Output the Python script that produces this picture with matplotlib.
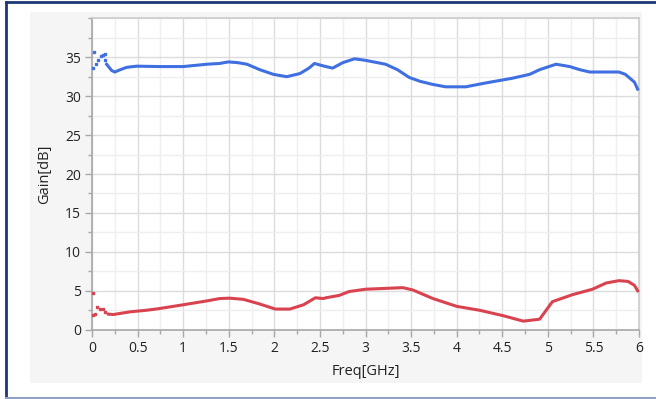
import matplotlib
matplotlib.use("Agg")
import matplotlib.pyplot as plt
from matplotlib.patches import Rectangle
from matplotlib.lines import Line2D
from matplotlib.ticker import MultipleLocator

# Gain vs frequency, upper trace (blue)
blue_start_f = [0.015, 0.02, 0.045, 0.07, 0.095, 0.125, 0.14, 0.14]
blue_start_g = [33.6, 35.7, 34.1, 34.6, 35.1, 35.3, 34.7, 35.4]
blue_f = [0.16, 0.215, 0.25, 0.31, 0.38, 0.49, 0.75, 1.0, 1.26, 1.40, 1.495, 1.60, 1.70,
          1.84, 1.99, 2.135, 2.28, 2.38, 2.44, 2.5, 2.566, 2.64, 2.75, 2.88, 3.0, 3.22,
          3.35, 3.48, 3.60, 3.74, 3.88, 4.10, 4.32, 4.61, 4.80, 4.91, 5.09, 5.24, 5.35,
          5.46, 5.71, 5.78, 5.85, 5.89, 5.95, 5.985]
blue_g = [34.1, 33.3, 33.1, 33.4, 33.7, 33.85, 33.8, 33.8, 34.1, 34.2, 34.4, 34.3, 34.1,
          33.4, 32.8, 32.5, 32.9, 33.6, 34.2, 34.0, 33.8, 33.6, 34.3, 34.8, 34.6, 34.1,
          33.4, 32.4, 31.9, 31.5, 31.2, 31.2, 31.7, 32.3, 32.8, 33.4, 34.1, 33.8, 33.4,
          33.1, 33.1, 33.1, 32.8, 32.4, 31.8, 30.9]

# Gain vs frequency, lower trace (red)
red_start_f = [0.01, 0.015, 0.03, 0.06, 0.09, 0.12, 0.14]
red_start_g = [1.9, 4.7, 2.0, 2.9, 2.7, 2.6, 2.3]
red_f = [0.18, 0.235, 0.42, 0.6, 0.73, 1.0, 1.26, 1.40, 1.51, 1.66, 1.84, 2.01, 2.17,
         2.32, 2.45, 2.54, 2.566, 2.71, 2.82, 3.0, 3.41, 3.52, 3.74, 4.0, 4.25, 4.51,
         4.73, 4.91, 5.05, 5.27, 5.49, 5.64, 5.78, 5.88, 5.95, 5.985]
red_g = [2.0, 1.95, 2.3, 2.5, 2.7, 3.2, 3.7, 4.0, 4.05, 3.9, 3.3, 2.65, 2.65,
         3.2, 4.1, 4.0, 4.1, 4.4, 4.9, 5.2, 5.4, 5.1, 4.0, 3.0, 2.5, 1.8,
         1.1, 1.35, 3.6, 4.5, 5.2, 6.0, 6.3, 6.2, 5.7, 5.0]

x_ticks = [0, 0.5, 1, 1.5, 2, 2.5, 3, 3.5, 4, 4.5, 5, 5.5, 6]
x_tick_labels = ["0", "0.5", "1", "1.5", "2", "2.5", "3", "3.5", "4", "4.5", "5", "5.5", "6"]
y_ticks = [0, 5, 10, 15, 20, 25, 30, 35]
y_tick_labels = ["0", "5", "10", "15", "20", "25", "30", "35"]

BLUE = "#3f6fe0"
RED = "#d9434f"

plt.rcParams["font.family"] = ["Open Sans", "DejaVu Sans"]

W, H = 656, 399
fig = plt.figure(figsize=(W / 100, H / 100), dpi=100)
fig.patch.set_facecolor("white")

# grey panel behind the plot
fig.add_artist(Rectangle((30 / W, 1 - 383 / H), (642 - 30) / W, (383 - 12) / H,
                         transform=fig.transFigure, facecolor="#f5f5f5",
                         edgecolor="none", zorder=0))
# window frame lines
fig.add_artist(Line2D([6 / W, 6 / W], [1 - 398 / H, 1 - 2 / H], transform=fig.transFigure,
                      color="#1c3876", lw=2, zorder=1))
fig.add_artist(Line2D([6 / W, 1], [1 - 2 / H, 1 - 2 / H], transform=fig.transFigure,
                      color="#1c3876", lw=2, zorder=1))
fig.add_artist(Line2D([6 / W, 1], [1 - 398 / H, 1 - 398 / H], transform=fig.transFigure,
                      color="#8ea2c4", lw=1.5, zorder=1))

ax_l, ax_r, ax_t, ax_b = 92, 639, 18.3, 329.7
ax = fig.add_axes([ax_l / W, 1 - ax_b / H, (ax_r - ax_l) / W, (ax_b - ax_t) / H])
ax.set_facecolor("white")
ax.set_xlim(0, 6)
ax.set_ylim(0, 40)

ax.set_xticks(x_ticks)
ax.set_xticklabels(x_tick_labels)
ax.set_yticks(y_ticks)
ax.set_yticklabels(y_tick_labels)
ax.xaxis.set_minor_locator(MultipleLocator(0.25))
ax.yaxis.set_minor_locator(MultipleLocator(2.5))

ax.grid(True, which="major", color="#dcdcdc", lw=1.0, zorder=0)
ax.grid(True, which="minor", color="#efefef", lw=1.0, zorder=0)
ax.set_axisbelow(True)

for side in ("left", "bottom"):
    ax.spines[side].set_color("#a8a8a8")
    ax.spines[side].set_linewidth(1.2)
for side in ("top", "right"):
    ax.spines[side].set_color("#cccccc")
    ax.spines[side].set_linewidth(1.2)

ax.tick_params(which="major", direction="out", length=5, width=1, color="#a8a8a8",
               labelsize=10, labelcolor="#222222", pad=3)
ax.tick_params(which="minor", direction="out", length=3, width=1, color="#a8a8a8")

ax.set_xlabel("Freq[GHz]", fontsize=10.5, color="#222222", labelpad=6)
ax.set_ylabel("Gain[dB]", fontsize=10.5, color="#222222", labelpad=9)

ax.plot(blue_f, blue_g, color=BLUE, lw=2.2, solid_joinstyle="round", zorder=3, clip_on=False)
ax.plot(blue_start_f, blue_start_g, linestyle="none", marker="s", ms=1.6, color=BLUE,
        zorder=3, clip_on=False)
ax.plot(red_f, red_g, color=RED, lw=2.2, solid_joinstyle="round", zorder=3, clip_on=False)
ax.plot(red_start_f, red_start_g, linestyle="none", marker="s", ms=1.6, color=RED,
        zorder=3, clip_on=False)

fig.savefig("out.png", dpi=100)
